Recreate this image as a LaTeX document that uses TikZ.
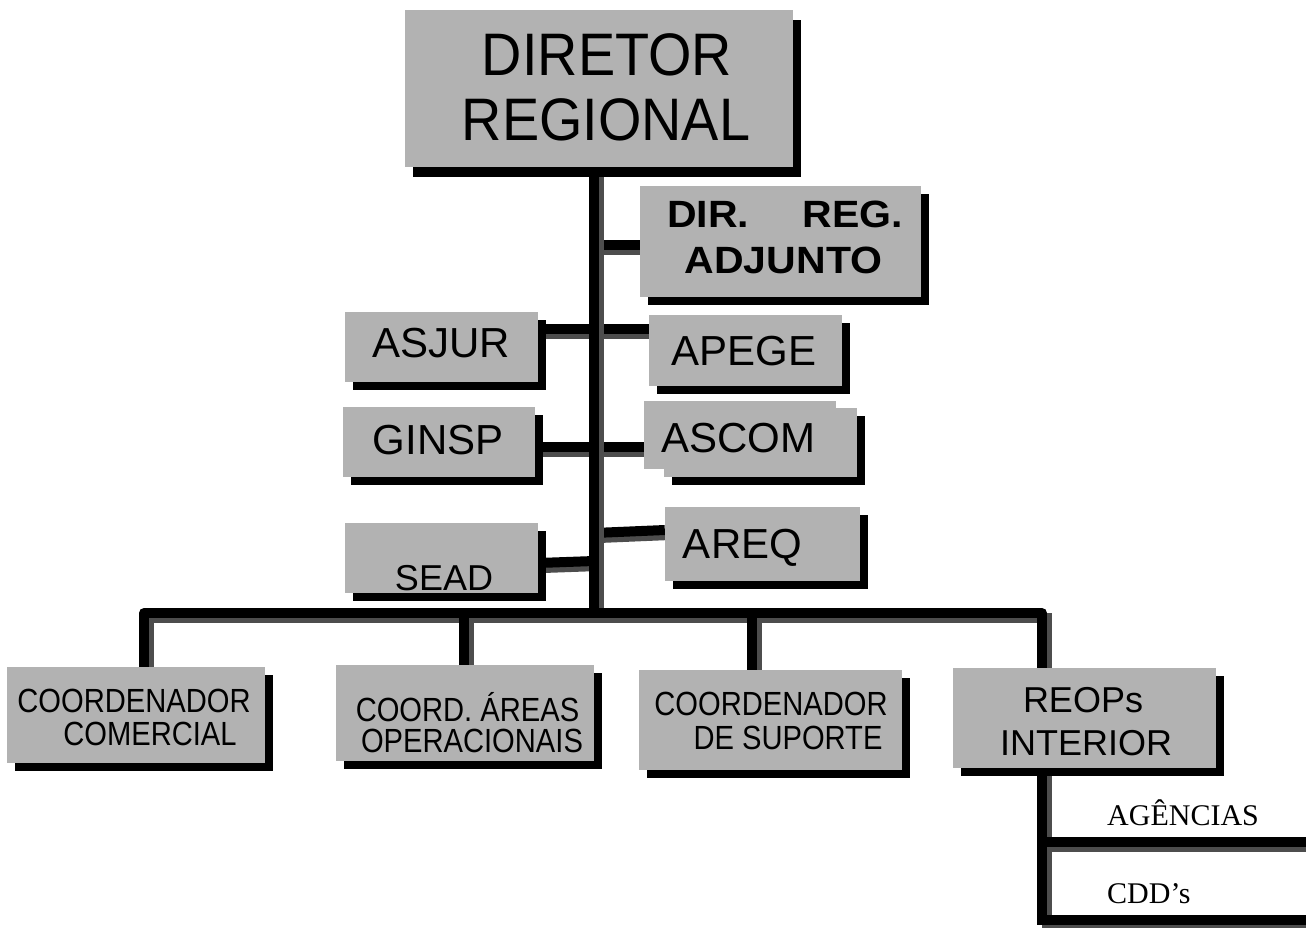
\documentclass[tikz,border=0pt]{standalone}
\usepackage{fontspec}
\setmainfont{Liberation Sans}
\newfontfamily\titlefont{Liberation Sans}[FakeStretch=0.93]
\newfontfamily\narrowfont{Liberation Sans}[FakeStretch=0.87]
\newfontfamily\widefont{Liberation Sans}[FakeStretch=1.08]
\newfontfamily\romanfont{Liberation Serif}
\usetikzlibrary{backgrounds}

\definecolor{boxgray}{RGB}{178,178,178}
\definecolor{wireshade}{RGB}{77,77,77}

\tikzset{
  orgbox/.style={fill=boxgray, draw=none, inner sep=0pt,
    preaction={fill=black, transform canvas={shift={(8pt,-8pt)}}}},
  plainbox/.style={fill=boxgray, draw=none, inner sep=0pt},
  wire/.style={line width=10pt, draw=black,
    preaction={draw=wireshade, line width=10pt, transform canvas={shift={(5pt,-5pt)}}}},
  txt/.style={anchor=base, inner sep=0pt, text=black},
  big/.style={font=\titlefont\fontsize{60}{60}\selectfont},
  mid/.style={font=\fontsize{42}{42}\selectfont},
  adjfont/.style={font=\widefont\bfseries\fontsize{38}{38}\selectfont},
  narrow/.style={font=\narrowfont\fontsize{33.5}{33.5}\selectfont},
  reopsfont/.style={font=\fontsize{36}{36}\selectfont},
  unitfont/.style={font=\romanfont\fontsize{30}{30}\selectfont},
}

\begin{document}
\begin{tikzpicture}[x=1pt, y=-1pt]
\useasboundingbox (0,0) rectangle (1306,927);

% boxes
\node[plainbox, minimum width=388pt, minimum height=157pt,
      preaction={fill=black, transform canvas={shift={(8pt,-10pt)}}}] (dir) at (599,88.5) {};
\node[orgbox, minimum width=281pt, minimum height=111pt] (adj) at (780.5,241.5) {};
\node[orgbox, minimum width=193pt, minimum height=70pt] (asjur) at (441.5,347) {};
\node[orgbox, minimum width=193pt, minimum height=71pt] (apege) at (745.5,350.5) {};
\node[orgbox, minimum width=192pt, minimum height=70pt] (ginsp) at (439,442) {};
\node[orgbox, minimum width=193pt, minimum height=69pt] (ascom) at (760.5,442.5) {};
\node[plainbox, minimum width=192pt, minimum height=68pt] (ascomfront) at (740,435) {};
\node[orgbox, minimum width=193pt, minimum height=70pt] (sead) at (441.5,558) {};
\node[orgbox, minimum width=195pt, minimum height=74pt] (areq) at (762.5,544) {};
\node[orgbox, minimum width=258pt, minimum height=96pt] (comer) at (136,715) {};
\node[orgbox, minimum width=258pt, minimum height=96pt] (areas) at (465,713) {};
\node[orgbox, minimum width=263pt, minimum height=100pt] (sup) at (770.5,720) {};
\node[orgbox, minimum width=263pt, minimum height=100pt] (reops) at (1084.5,718) {};

% junction points of the main trunk and the bus
\coordinate (trunktop) at (dir.south -| 594,0);
\coordinate (trunkfoot) at (594,613);
\coordinate (busL) at (144,613);
\coordinate (busR) at (1042,613);
\coordinate (agend) at (1306,842);
\coordinate (cddend) at (1306,920);

% connectors, behind the boxes
\begin{scope}[on background layer]
  \draw[wire] (adj.west |- 0,245) -- (trunktop |- 0,245);
  \draw[wire] (asjur.east |- 0,328.5) -- (trunktop |- 0,328.5);
  \draw[wire] (trunktop |- 0,328.5) -- (apege.west |- 0,328.5);
  \draw[wire] (ginsp.east |- 0,446.5) -- (trunktop |- 0,446.5);
  \draw[wire] (trunktop |- 0,447) -- (ascomfront.west |- 0,447);
  \draw[wire] (sead.east |- 0,563) -- (trunktop |- 0,561);
  \draw[wire] (trunktop |- 0,533) -- (areq.west |- 0,530);
  \draw[wire] (trunktop) -- (trunkfoot);
  \draw[wire, line join=round] (comer.north -| busL) -- (busL) -- (busR) -- (reops.north -| busR);
  \draw[wire] (areas.north -| 464,0) -- (busL -| 464,0);
  \draw[wire] (sup.north -| 752,0) -- (busL -| 752,0);
  \draw[wire] (reops.south -| busR) -- (busR |- cddend) -- (cddend);
  \draw[wire] (busR |- agend) -- (agend);
\end{scope}

% labels
\node[txt, big] (tdir1) at (607,75) {DIRETOR};
\node[txt, big] (tdir2) at (606,140) {REGIONAL};
\node[txt, adjfont, anchor=base west] (tadj1) at (667,227) {DIR.};
\node[txt, adjfont, anchor=base east] (tadj2) at (903,227) {REG.};
\node[txt, adjfont] (tadj3) at (783.5,273) {ADJUNTO};
\node[txt, mid] (tasjur) at (441,357) {ASJUR};
\node[txt, mid] (tapege) at (744,365) {APEGE};
\node[txt, mid] (tginsp) at (438,454) {GINSP};
\node[txt, mid] (tascom) at (738.5,452) {ASCOM};
\node[txt, mid] (tareq) at (742.5,558) {AREQ};
\node[txt, font=\fontsize{36}{36}\selectfont] (tsead) at (444,590) {SEAD};
\node[txt, narrow] (tcom1) at (134,712) {COORDENADOR};
\node[txt, narrow] (tcom2) at (150,745) {COMERCIAL};
\node[txt, narrow] (tare1) at (467.5,721) {COORD. ÁREAS};
\node[txt, narrow] (tare2) at (472,752) {OPERACIONAIS};
\node[txt, narrow] (tsup1) at (771,715) {COORDENADOR};
\node[txt, narrow] (tsup2) at (788,749) {DE SUPORTE};
\node[txt, reopsfont] (treo1) at (1083,712) {REOPs};
\node[txt, reopsfont] (treo2) at (1086,755) {INTERIOR};
\node[txt, unitfont, anchor=base west] (tag) at (1107,825) {AGÊNCIAS};
\node[txt, unitfont, anchor=base west] (tcdd) at (1107,903) {CDD’s};
\end{tikzpicture}
\end{document}
